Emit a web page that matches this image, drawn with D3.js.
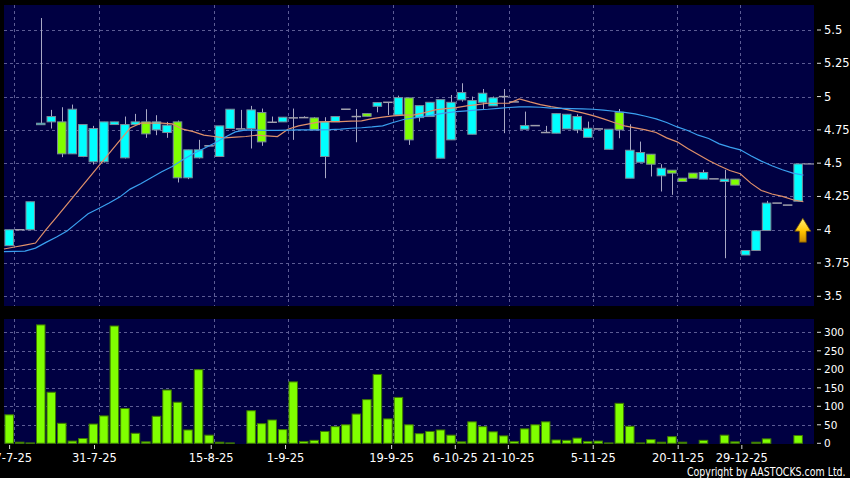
<!DOCTYPE html>
<html lang="en">
<head>
<meta charset="utf-8">
<title>Price chart</title>
<style>
body { margin: 0; background: #000; }
svg { display: block; }
text { font-family: "DejaVu Sans", Verdana, sans-serif; fill: #fff; }
.grid line { stroke: #5c5c94; stroke-dasharray: 3,3; stroke-width: 1; }
</style>
</head>
<body>
<svg width="850" height="478"></svg>
<script src="https://cdn.jsdelivr.net/npm/d3@7/dist/d3.min.js"></script>
<script>
// daily candles, index 0 .. 75
var opens  = [3.88,4.00,4.00,4.79,4.81,4.81,4.57,4.55,4.51,4.51,4.79,4.54,4.79,4.81,4.75,4.73,4.81,4.39,4.54,4.63,
              4.55,4.76,4.757,4.76,4.88,4.807,4.81,4.84,4.842,4.84,4.55,4.81,4.905,4.85,4.872,4.927,4.957,4.862,4.99,4.842,
              4.85,4.537,4.675,4.975,4.717,4.957,4.93,5.00,4.96,4.755,4.782,4.73,4.725,4.757,4.75,4.694,4.757,4.604,4.882,4.387,
              4.507,4.567,4.405,4.447,4.387,4.425,4.38,4.382,4.362,4.38,3.81,3.844,3.994,4.20,4.185,4.214];
var highs  = [4.00,4.00,4.21,5.59,4.90,4.92,4.94,4.79,4.78,4.81,4.81,4.85,4.87,4.905,4.86,4.81,4.82,4.60,4.675,4.63,
              4.78,4.905,4.90,4.93,4.91,4.85,4.845,4.91,4.852,4.845,4.845,4.85,4.905,4.907,4.872,4.955,4.957,5.007,4.99,4.932,
              4.957,4.977,5.012,5.10,5.00,5.057,5.00,5.057,4.96,4.887,4.782,4.78,4.872,4.867,4.867,4.812,4.757,4.755,4.907,4.792,
              4.662,4.567,4.492,4.447,4.387,4.425,4.45,4.382,4.45,4.38,3.844,3.992,4.217,4.20,4.185,4.494];
var lows   = [3.88,4.00,4.00,4.79,4.76,4.545,4.57,4.545,4.49,4.505,4.79,4.535,4.79,4.69,4.71,4.69,4.355,4.38,4.535,4.63,
              4.55,4.76,4.757,4.61,4.63,4.807,4.81,4.675,4.842,4.75,4.387,4.81,4.905,4.657,4.852,4.882,4.862,4.862,4.637,4.812,
              4.85,4.537,4.675,4.962,4.717,4.907,4.93,4.725,4.96,4.755,4.782,4.73,4.725,4.757,4.725,4.694,4.757,4.604,4.687,4.387,
              4.507,4.40,4.287,4.262,4.362,4.387,4.38,4.382,3.786,4.335,3.81,3.84,3.994,4.20,4.185,4.214];
var closes = [4.00,4.00,4.21,4.80,4.85,4.57,4.905,4.79,4.76,4.81,4.81,4.79,4.81,4.72,4.81,4.785,4.39,4.60,4.60,4.63,
              4.78,4.905,4.757,4.90,4.66,4.807,4.845,4.84,4.842,4.75,4.81,4.85,4.905,4.85,4.852,4.955,4.957,4.992,4.675,4.932,
              4.957,4.977,4.957,5.03,4.97,5.025,4.99,5.00,4.96,4.782,4.782,4.73,4.872,4.867,4.85,4.762,4.757,4.755,4.75,4.597,
              4.58,4.492,4.462,4.425,4.362,4.387,4.43,4.382,4.38,4.335,3.844,3.992,4.20,4.20,4.185,4.494];
var volumes = [77,3,1,320,138,54,6,13,52,74,317,94,27,4,73,144,111,36,199,22,
               3,1,0,88,53,63,37,166,5,8,32,45,50,79,118,186,66,124,50,26,
               32,36,22,4,58,45,31,20,5,39,50,58,9,8,14,5,6,1,108,46,
               1,10,3,18,3,0,8,0,22,4,0,3,12,0,0,21];

// moving averages, one point per day boundary (first one is the day before index 0)
var maShort = [3.855,3.87,3.885,3.90,4.00,4.094,4.19,4.286,4.382,4.477,4.573,4.669,4.764,4.80,4.80,4.80,4.795,4.755,4.737,4.71,
               4.70,4.69,4.695,4.70,4.71,4.705,4.70,4.755,4.78,4.795,4.81,4.812,4.812,4.815,4.817,4.835,4.845,4.855,4.86,4.862,
               4.88,4.90,4.91,4.917,4.93,4.94,4.95,4.95,4.95,4.982,4.96,4.94,4.924,4.912,4.895,4.878,4.857,4.832,4.805,4.78,
               4.765,4.75,4.73,4.69,4.66,4.61,4.565,4.52,4.48,4.445,4.42,4.35,4.295,4.268,4.25,4.225,4.21];
var maLong  = [3.836,3.838,3.84,3.862,3.905,3.945,3.99,4.055,4.12,4.16,4.20,4.245,4.305,4.345,4.39,4.435,4.475,4.525,4.57,4.61,
               4.65,4.695,4.735,4.75,4.748,4.746,4.746,4.748,4.75,4.75,4.75,4.752,4.756,4.762,4.766,4.772,4.78,4.805,4.828,4.84,
               4.852,4.865,4.877,4.887,4.893,4.90,4.905,4.912,4.918,4.922,4.922,4.92,4.914,4.912,4.91,4.908,4.905,4.898,4.89,4.882,
               4.87,4.852,4.832,4.805,4.772,4.745,4.71,4.685,4.645,4.62,4.60,4.555,4.515,4.48,4.45,4.425,4.41];

var tickIdx    = [1, 9, 20, 27, 37, 43, 48, 56, 64, 70];
var tickLabels = ["17-7-25","31-7-25","15-8-25","1-9-25","19-9-25","6-10-25","21-10-25","5-11-25","20-11-25","29-12-25"];
var priceTicks = [3.5, 3.75, 4, 4.25, 4.5, 4.75, 5, 5.25, 5.5];
var volTicks   = [0, 50, 100, 150, 200, 250, 300];

var N = closes.length;
var svg = d3.select("svg");

var panel = {left: 4, right: 814, top: 5, bottom: 306},
    vpanel = {top: 319, bottom: 444};

var xEdge = d3.scaleLinear().domain([0, N]).range([3.94, 803.4]),
    xTick = d3.scaleLinear().domain([0, N]).range([-1, 805.5]),
    step = xEdge(1) - xEdge(0),
    y = d3.scaleLinear().domain([3.5, 5.5]).range([296.3, 30]),
    yv = d3.scaleLinear().domain([0, 300]).range([443.3, 332.3]);

// panels
svg.append("rect").attr("x", panel.left).attr("y", panel.top)
    .attr("width", panel.right - panel.left).attr("height", panel.bottom - panel.top)
    .attr("fill", "#000042");
svg.append("rect").attr("x", panel.left).attr("y", vpanel.top)
    .attr("width", panel.right - panel.left).attr("height", vpanel.bottom - vpanel.top)
    .attr("fill", "#000042");

// grid
var grid = svg.append("g").attr("class", "grid");
grid.selectAll("line.hp").data(priceTicks).enter().append("line")
    .attr("x1", panel.left).attr("x2", panel.right)
    .attr("y1", function(d) { return Math.round(y(d)) + 0.5; })
    .attr("y2", function(d) { return Math.round(y(d)) + 0.5; });
grid.selectAll("line.hv").data(volTicks.slice(1)).enter().append("line")
    .attr("x1", panel.left).attr("x2", panel.right)
    .attr("y1", function(d) { return Math.round(yv(d)) + 0.5; })
    .attr("y2", function(d) { return Math.round(yv(d)) + 0.5; });
grid.selectAll("line.v1").data(tickIdx).enter().append("line")
    .attr("x1", function(d) { return Math.round(xEdge(d)) + 0.5; })
    .attr("x2", function(d) { return Math.round(xEdge(d)) + 0.5; })
    .attr("y1", panel.top).attr("y2", panel.bottom);
grid.selectAll("line.v2").data(tickIdx).enter().append("line")
    .attr("x1", function(d) { return Math.round(xEdge(d)) + 0.5; })
    .attr("x2", function(d) { return Math.round(xEdge(d)) + 0.5; })
    .attr("y1", vpanel.top).attr("y2", vpanel.bottom);

var days = d3.range(N);

// wicks
svg.append("g").selectAll("line").data(days.filter(function(i) { return highs[i] > lows[i]; }))
  .enter().append("line")
    .attr("x1", function(i) { return Math.round(xEdge(i) + step / 2) + 0.5; })
    .attr("x2", function(i) { return Math.round(xEdge(i) + step / 2) + 0.5; })
    .attr("y1", function(i) { return y(highs[i]); })
    .attr("y2", function(i) { return y(lows[i]); })
    .attr("stroke", "#a8a8c4").attr("stroke-width", 1);

// bodies
svg.append("g").selectAll("rect").data(days.filter(function(i) { return opens[i] != closes[i]; }))
  .enter().append("rect")
    .attr("x", function(i) { return xEdge(i) + 1; })
    .attr("width", step - 2)
    .attr("y", function(i) { return y(Math.max(opens[i], closes[i])); })
    .attr("height", function(i) { return Math.max(1.5, Math.abs(y(opens[i]) - y(closes[i]))); })
    .attr("fill", function(i) { return closes[i] > opens[i] ? "#00ffff" : "#80ff00"; })
    .attr("stroke", "#7a8c9a").attr("stroke-width", 1);

// flat days
svg.append("g").selectAll("line").data(days.filter(function(i) { return opens[i] == closes[i]; }))
  .enter().append("line")
    .attr("x1", function(i) { return xEdge(i) + 0.5; })
    .attr("x2", function(i) { return xEdge(i) + step - 0.5; })
    .attr("y1", function(i) { return y(closes[i]); })
    .attr("y2", function(i) { return y(closes[i]); })
    .attr("stroke", "#a0a0ac").attr("stroke-width", 1.5);

// last close marker
svg.append("line")
    .attr("x1", xEdge(N)).attr("x2", panel.right)
    .attr("y1", y(closes[N - 1])).attr("y2", y(closes[N - 1]))
    .attr("stroke", "#a0a0ac").attr("stroke-width", 1.2);

// moving averages
var maLine = d3.line()
    .x(function(d, k) { return xEdge(k); })
    .y(function(d) { return y(d); });
svg.append("path").datum(maShort).attr("d", maLine)
    .attr("fill", "none").attr("stroke", "#e0906a").attr("stroke-width", 1.2);
svg.append("path").datum(maLong).attr("d", maLine)
    .attr("fill", "none").attr("stroke", "#3aa0f0").attr("stroke-width", 1.2);

// volume
svg.append("g").selectAll("rect").data(days)
  .enter().append("rect")
    .attr("x", function(i) { return xEdge(i) + 1; })
    .attr("width", step - 2)
    .attr("y", function(i) { return yv(volumes[i]); })
    .attr("height", function(i) { return yv(0) - yv(volumes[i]); })
    .attr("fill", "#80ff00").attr("stroke", "#3f7a00").attr("stroke-width", 1);

// up arrow under the last candle
var defs = svg.append("defs");
var grad = defs.append("linearGradient").attr("id", "arrowGrad")
    .attr("x1", 0).attr("y1", 0).attr("x2", 0).attr("y2", 1);
grad.append("stop").attr("offset", "0%").attr("stop-color", "#fff27a");
grad.append("stop").attr("offset", "55%").attr("stop-color", "#ffc400");
grad.append("stop").attr("offset", "100%").attr("stop-color", "#c88a00");
var ax = xEdge(N) - 0.6, ay = y(lows[N - 1]) + 17;
svg.append("path")
    .attr("d", "M" + ax + "," + ay + " l8,13 h-4.5 v11 h-7 v-11 h-4.5 z")
    .attr("fill", "url(#arrowGrad)").attr("stroke", "#6a4a00").attr("stroke-width", 0.8);

// right axes
var raxis = svg.append("g");
raxis.selectAll("line.p").data(priceTicks).enter().append("line")
    .attr("x1", 817).attr("x2", 821)
    .attr("y1", function(d) { return y(d); }).attr("y2", function(d) { return y(d); })
    .attr("stroke", "#ddd");
raxis.selectAll("text.p").data(priceTicks).enter().append("text")
    .attr("x", 824).attr("y", function(d) { return y(d) + 4; })
    .style("font-size", "11.5px")
    .text(function(d) { return String(d); });
raxis.selectAll("line.v").data(volTicks).enter().append("line")
    .attr("x1", 817).attr("x2", 821)
    .attr("y1", function(d) { return yv(d); }).attr("y2", function(d) { return yv(d); })
    .attr("stroke", "#ddd");
raxis.selectAll("text.v").data(volTicks).enter().append("text")
    .attr("x", 824).attr("y", function(d) { return yv(d) + 4; })
    .style("font-size", "10.5px")
    .text(function(d) { return String(d); });

// bottom date axis
var baxis = svg.append("g");
baxis.selectAll("line").data(tickIdx).enter().append("line")
    .attr("x1", function(d) { return xTick(d); }).attr("x2", function(d) { return xTick(d); })
    .attr("y1", 445).attr("y2", 449).attr("stroke", "#ddd");
baxis.selectAll("text").data(tickIdx).enter().append("text")
    .attr("x", function(d) { return xTick(d); }).attr("y", 462)
    .attr("text-anchor", "middle")
    .style("font-size", "11.5px")
    .text(function(d, j) { return tickLabels[j]; });

// copyright line, squeezed horizontally like the original narrow face
svg.append("text").attr("transform", "translate(687,476) scale(0.82,1)")
    .style("font-size", "11.5px")
    .text("Copyright by AASTOCKS.com Ltd.");
</script>
</body>
</html>
